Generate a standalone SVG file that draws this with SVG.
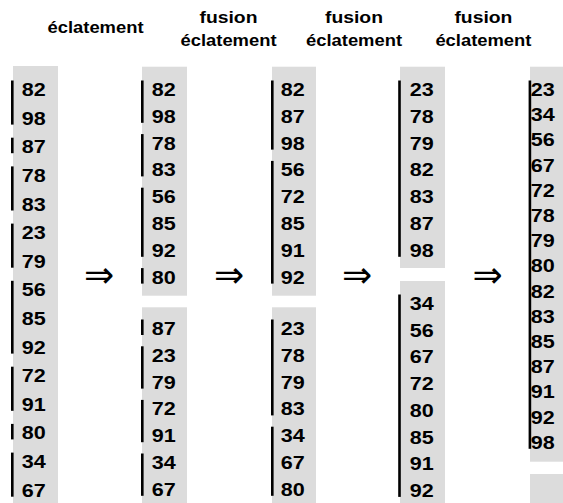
<svg xmlns="http://www.w3.org/2000/svg" width="563" height="503" viewBox="0 0 563 503">
  <style>
    .bg { fill: #dcdcdc; }
    .run { fill: #000; }
    .n { font-family: "Liberation Sans", Arial, sans-serif; font-weight: bold; font-size: 17.5px; fill: #000; }
    .t { font-family: "Liberation Sans", Arial, sans-serif; font-weight: bold; font-size: 16px; fill: #000; text-anchor: middle; }
    .arr { font-family: "DejaVu Sans", sans-serif; font-size: 36px; fill: #000; text-anchor: middle; }
  </style>
  <rect width="563" height="503" fill="#fff"/>

  <!-- step headings -->
  <g id="headings">
    <text class="t" x="95.5" y="33" textLength="96" lengthAdjust="spacingAndGlyphs">éclatement</text>
    <text class="t" x="228.5" y="23" textLength="58" lengthAdjust="spacingAndGlyphs">fusion</text>
    <text class="t" x="228.5" y="45.5" textLength="96" lengthAdjust="spacingAndGlyphs">éclatement</text>
    <text class="t" x="354" y="23" textLength="58" lengthAdjust="spacingAndGlyphs">fusion</text>
    <text class="t" x="354" y="45.5" textLength="96" lengthAdjust="spacingAndGlyphs">éclatement</text>
    <text class="t" x="483.4" y="23" textLength="58" lengthAdjust="spacingAndGlyphs">fusion</text>
    <text class="t" x="483.4" y="45.5" textLength="96" lengthAdjust="spacingAndGlyphs">éclatement</text>
  </g>

  <!-- column 1: initial sequence split into runs -->
  <g id="col1">
    <rect class="bg" x="13" y="66" width="45" height="437"/>
    <rect class="run" x="11" y="80.5" width="2.6" height="44.1"/>
    <rect class="run" x="11" y="137.7" width="2.6" height="15.5"/>
    <rect class="run" x="11" y="166.4" width="2.6" height="44.1"/>
    <rect class="run" x="11" y="223.6" width="2.6" height="44.1"/>
    <rect class="run" x="11" y="280.8" width="2.6" height="72.8"/>
    <rect class="run" x="11" y="366.7" width="2.6" height="44.1"/>
    <rect class="run" x="11" y="423.9" width="2.6" height="15.5"/>
    <rect class="run" x="11" y="452.6" width="2.6" height="44.1"/>
    <g>
      <text class="n" x="21.7" y="96" textLength="24" lengthAdjust="spacingAndGlyphs">82</text>
      <text class="n" x="21.7" y="124.6" textLength="24" lengthAdjust="spacingAndGlyphs">98</text>
      <text class="n" x="21.7" y="153.2" textLength="24" lengthAdjust="spacingAndGlyphs">87</text>
      <text class="n" x="21.7" y="181.9" textLength="24" lengthAdjust="spacingAndGlyphs">78</text>
      <text class="n" x="21.7" y="210.5" textLength="24" lengthAdjust="spacingAndGlyphs">83</text>
      <text class="n" x="21.7" y="239.1" textLength="24" lengthAdjust="spacingAndGlyphs">23</text>
      <text class="n" x="21.7" y="267.7" textLength="24" lengthAdjust="spacingAndGlyphs">79</text>
      <text class="n" x="21.7" y="296.3" textLength="24" lengthAdjust="spacingAndGlyphs">56</text>
      <text class="n" x="21.7" y="325" textLength="24" lengthAdjust="spacingAndGlyphs">85</text>
      <text class="n" x="21.7" y="353.6" textLength="24" lengthAdjust="spacingAndGlyphs">92</text>
      <text class="n" x="21.7" y="382.2" textLength="24" lengthAdjust="spacingAndGlyphs">72</text>
      <text class="n" x="21.7" y="410.8" textLength="24" lengthAdjust="spacingAndGlyphs">91</text>
      <text class="n" x="21.7" y="439.4" textLength="24" lengthAdjust="spacingAndGlyphs">80</text>
      <text class="n" x="21.7" y="468.1" textLength="24" lengthAdjust="spacingAndGlyphs">34</text>
      <text class="n" x="21.7" y="496.7" textLength="24" lengthAdjust="spacingAndGlyphs">67</text>
    </g>
  </g>

  <!-- column 2 -->
  <g id="col2">
    <rect class="bg" x="142" y="66.7" width="45" height="229"/>
    <rect class="bg" x="142" y="307.3" width="45" height="196"/>
    <rect class="run" x="141" y="80.5" width="2.6" height="42.3"/>
    <rect class="run" x="141" y="134.1" width="2.6" height="42.3"/>
    <rect class="run" x="141" y="187.7" width="2.6" height="69.1"/>
    <rect class="run" x="141" y="268.1" width="2.6" height="15.5"/>
    <rect class="run" x="141" y="319.5" width="2.6" height="15.5"/>
    <rect class="run" x="141" y="346.3" width="2.6" height="42.3"/>
    <rect class="run" x="141" y="399.9" width="2.6" height="42.3"/>
    <rect class="run" x="141" y="453.5" width="2.6" height="42.3"/>
    <g>
      <text class="n" x="151.7" y="96" textLength="24" lengthAdjust="spacingAndGlyphs">82</text>
      <text class="n" x="151.7" y="122.8" textLength="24" lengthAdjust="spacingAndGlyphs">98</text>
      <text class="n" x="151.7" y="149.6" textLength="24" lengthAdjust="spacingAndGlyphs">78</text>
      <text class="n" x="151.7" y="176.4" textLength="24" lengthAdjust="spacingAndGlyphs">83</text>
      <text class="n" x="151.7" y="203.2" textLength="24" lengthAdjust="spacingAndGlyphs">56</text>
      <text class="n" x="151.7" y="230" textLength="24" lengthAdjust="spacingAndGlyphs">85</text>
      <text class="n" x="151.7" y="256.8" textLength="24" lengthAdjust="spacingAndGlyphs">92</text>
      <text class="n" x="151.7" y="283.6" textLength="24" lengthAdjust="spacingAndGlyphs">80</text>
      <text class="n" x="151.7" y="335" textLength="24" lengthAdjust="spacingAndGlyphs">87</text>
      <text class="n" x="151.7" y="361.8" textLength="24" lengthAdjust="spacingAndGlyphs">23</text>
      <text class="n" x="151.7" y="388.6" textLength="24" lengthAdjust="spacingAndGlyphs">79</text>
      <text class="n" x="151.7" y="415.4" textLength="24" lengthAdjust="spacingAndGlyphs">72</text>
      <text class="n" x="151.7" y="442.2" textLength="24" lengthAdjust="spacingAndGlyphs">91</text>
      <text class="n" x="151.7" y="469" textLength="24" lengthAdjust="spacingAndGlyphs">34</text>
      <text class="n" x="151.7" y="495.8" textLength="24" lengthAdjust="spacingAndGlyphs">67</text>
    </g>
  </g>

  <!-- column 3 -->
  <g id="col3">
    <rect class="bg" x="272" y="66.7" width="44" height="229"/>
    <rect class="bg" x="272" y="307.3" width="44" height="196"/>
    <rect class="run" x="271" y="80.5" width="2.6" height="69.1"/>
    <rect class="run" x="271" y="160.9" width="2.6" height="122.7"/>
    <rect class="run" x="271" y="319.5" width="2.6" height="95.9"/>
    <rect class="run" x="271" y="426.7" width="2.6" height="69.1"/>
    <g>
      <text class="n" x="280.7" y="96" textLength="24" lengthAdjust="spacingAndGlyphs">82</text>
      <text class="n" x="280.7" y="122.8" textLength="24" lengthAdjust="spacingAndGlyphs">87</text>
      <text class="n" x="280.7" y="149.6" textLength="24" lengthAdjust="spacingAndGlyphs">98</text>
      <text class="n" x="280.7" y="176.4" textLength="24" lengthAdjust="spacingAndGlyphs">56</text>
      <text class="n" x="280.7" y="203.2" textLength="24" lengthAdjust="spacingAndGlyphs">72</text>
      <text class="n" x="280.7" y="230" textLength="24" lengthAdjust="spacingAndGlyphs">85</text>
      <text class="n" x="280.7" y="256.8" textLength="24" lengthAdjust="spacingAndGlyphs">91</text>
      <text class="n" x="280.7" y="283.6" textLength="24" lengthAdjust="spacingAndGlyphs">92</text>
      <text class="n" x="280.7" y="335" textLength="24" lengthAdjust="spacingAndGlyphs">23</text>
      <text class="n" x="280.7" y="361.8" textLength="24" lengthAdjust="spacingAndGlyphs">78</text>
      <text class="n" x="280.7" y="388.6" textLength="24" lengthAdjust="spacingAndGlyphs">79</text>
      <text class="n" x="280.7" y="415.4" textLength="24" lengthAdjust="spacingAndGlyphs">83</text>
      <text class="n" x="280.7" y="442.2" textLength="24" lengthAdjust="spacingAndGlyphs">34</text>
      <text class="n" x="280.7" y="469" textLength="24" lengthAdjust="spacingAndGlyphs">67</text>
      <text class="n" x="280.7" y="495.8" textLength="24" lengthAdjust="spacingAndGlyphs">80</text>
    </g>
  </g>

  <!-- column 4 -->
  <g id="col4">
    <rect class="bg" x="400" y="66.7" width="45" height="201.3"/>
    <rect class="bg" x="400" y="281" width="45" height="222"/>
    <rect class="run" x="398.2" y="80.5" width="2.6" height="176.3"/>
    <rect class="run" x="398.2" y="294.5" width="2.6" height="202.4"/>
    <g>
      <text class="n" x="409.7" y="96" textLength="24" lengthAdjust="spacingAndGlyphs">23</text>
      <text class="n" x="409.7" y="122.8" textLength="24" lengthAdjust="spacingAndGlyphs">78</text>
      <text class="n" x="409.7" y="149.6" textLength="24" lengthAdjust="spacingAndGlyphs">79</text>
      <text class="n" x="409.7" y="176.4" textLength="24" lengthAdjust="spacingAndGlyphs">82</text>
      <text class="n" x="409.7" y="203.2" textLength="24" lengthAdjust="spacingAndGlyphs">83</text>
      <text class="n" x="409.7" y="230" textLength="24" lengthAdjust="spacingAndGlyphs">87</text>
      <text class="n" x="409.7" y="256.8" textLength="24" lengthAdjust="spacingAndGlyphs">98</text>
      <text class="n" x="409.7" y="310" textLength="24" lengthAdjust="spacingAndGlyphs">34</text>
      <text class="n" x="409.7" y="336.7" textLength="24" lengthAdjust="spacingAndGlyphs">56</text>
      <text class="n" x="409.7" y="363.4" textLength="24" lengthAdjust="spacingAndGlyphs">67</text>
      <text class="n" x="409.7" y="390.1" textLength="24" lengthAdjust="spacingAndGlyphs">72</text>
      <text class="n" x="409.7" y="416.8" textLength="24" lengthAdjust="spacingAndGlyphs">80</text>
      <text class="n" x="409.7" y="443.5" textLength="24" lengthAdjust="spacingAndGlyphs">85</text>
      <text class="n" x="409.7" y="470.2" textLength="24" lengthAdjust="spacingAndGlyphs">91</text>
      <text class="n" x="409.7" y="496.9" textLength="24" lengthAdjust="spacingAndGlyphs">92</text>
    </g>
  </g>

  <!-- column 5: fully merged -->
  <g id="col5">
    <rect class="bg" x="530" y="66.7" width="40" height="395"/>
    <rect class="bg" x="530" y="474" width="40" height="29"/>
    <rect class="run" x="528.6" y="80.5" width="2.6" height="368.3"/>
    <g>
      <text class="n" x="530.7" y="96" textLength="24" lengthAdjust="spacingAndGlyphs">23</text>
      <text class="n" x="530.7" y="121.2" textLength="24" lengthAdjust="spacingAndGlyphs">34</text>
      <text class="n" x="530.7" y="146.4" textLength="24" lengthAdjust="spacingAndGlyphs">56</text>
      <text class="n" x="530.7" y="171.6" textLength="24" lengthAdjust="spacingAndGlyphs">67</text>
      <text class="n" x="530.7" y="196.8" textLength="24" lengthAdjust="spacingAndGlyphs">72</text>
      <text class="n" x="530.7" y="222" textLength="24" lengthAdjust="spacingAndGlyphs">78</text>
      <text class="n" x="530.7" y="247.2" textLength="24" lengthAdjust="spacingAndGlyphs">79</text>
      <text class="n" x="530.7" y="272.4" textLength="24" lengthAdjust="spacingAndGlyphs">80</text>
      <text class="n" x="530.7" y="297.6" textLength="24" lengthAdjust="spacingAndGlyphs">82</text>
      <text class="n" x="530.7" y="322.8" textLength="24" lengthAdjust="spacingAndGlyphs">83</text>
      <text class="n" x="530.7" y="348" textLength="24" lengthAdjust="spacingAndGlyphs">85</text>
      <text class="n" x="530.7" y="373.2" textLength="24" lengthAdjust="spacingAndGlyphs">87</text>
      <text class="n" x="530.7" y="398.4" textLength="24" lengthAdjust="spacingAndGlyphs">91</text>
      <text class="n" x="530.7" y="423.6" textLength="24" lengthAdjust="spacingAndGlyphs">92</text>
      <text class="n" x="530.7" y="448.8" textLength="24" lengthAdjust="spacingAndGlyphs">98</text>
    </g>
  </g>

  <!-- step arrows -->
  <g id="connectors">
    <text class="arr" x="99" y="287">⇒</text>
    <text class="arr" x="229" y="287">⇒</text>
    <text class="arr" x="357" y="287">⇒</text>
    <text class="arr" x="487.5" y="287">⇒</text>
  </g>
</svg>
